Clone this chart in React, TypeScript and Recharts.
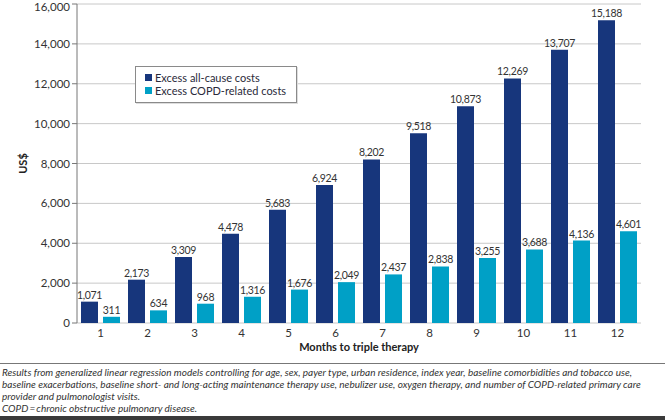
import React from 'react';
import { BarChart, Bar, XAxis, YAxis, CartesianGrid, LabelList } from 'recharts';

const months = ['1', '2', '3', '4', '5', '6', '7', '8', '9', '10', '11', '12'];
const allCause = [1071, 2173, 3309, 4478, 5683, 6924, 8202, 9518, 10873, 12269, 13707, 15188];
const copdRelated = [311, 634, 968, 1316, 1676, 2049, 2437, 2838, 3255, 3688, 4136, 4601];
const yTicks = [0, 2000, 4000, 6000, 8000, 10000, 12000, 14000, 16000];
const edgeTicks = [0, 1, 2, 3, 4, 5, 6, 7, 8, 9, 10, 11, 12];
const seriesNames = ['Excess all-cause costs', 'Excess COPD-related costs'];
const footLines = [
  'Results from generalized linear regression models controlling for age, sex, payer type, urban residence, index year, baseline comorbidities and tobacco use,',
  'baseline exacerbations, baseline short- and long-acting maintenance therapy use, nebulizer use, oxygen therapy, and number of COPD-related primary care',
  'provider and pulmonologist visits.',
  'COPD\u2009=\u2009chronic obstructive pulmonary disease.',
];

const NAVY = '#17367c';
const CYAN = '#00a0c6';
const FONT = 'Lato, "Noto Sans", sans-serif';

const data = months.map((m, i) => ({ month: m, all: allCause[i], copd: copdRelated[i] }));

const fmt = (v: any) => Number(v).toLocaleString('en-US');

export default function App() {
  return (
    <div style={{ position: 'absolute', left: 0, top: 0, width: 665, height: 420, background: '#fff', overflow: 'hidden' }}>
      <BarChart
        width={665}
        height={360}
        data={data}
        margin={{ top: 4, right: 24, bottom: 0, left: 0 }}
        barGap={5}
      >
        <CartesianGrid vertical={false} stroke="#c8c8c8" />
        <XAxis
          xAxisId="edge"
          type="number"
          domain={[0, 12]}
          ticks={edgeTicks}
          tick={false}
          tickSize={5}
          height={0}
          axisLine={{ stroke: '#777' }}
          tickLine={{ stroke: '#777' }}
          allowDataOverflow
        />
        <XAxis
          xAxisId="cat"
          dataKey="month"
          axisLine={false}
          tickLine={false}
          height={37}
          tickMargin={0}
          tick={{ fontFamily: FONT, fontSize: 11.5, fill: '#333' }}
          label={{
            value: 'Months to triple therapy',
            position: 'insideBottom',
            offset: 9,
            style: { fontFamily: FONT, fontSize: 11, fontWeight: 700, fill: '#222' },
          }}
        />
        <YAxis
          domain={[0, 16000]}
          ticks={yTicks}
          width={77}
          tickFormatter={fmt}
          axisLine={{ stroke: '#777' }}
          tickLine={{ stroke: '#777' }}
          tickSize={5}
          tickMargin={2}
          tick={{ fontFamily: FONT, fontSize: 11.5, fill: '#333' }}
          label={{
            value: 'US$',
            angle: -90,
            position: 'insideLeft',
            offset: 23,
            style: { fontFamily: FONT, fontSize: 11, fontWeight: 700, fill: '#222', textAnchor: 'middle' },
          }}
        />
        <Bar xAxisId="cat" dataKey="all" name={seriesNames[0]} fill={NAVY} barSize={17} isAnimationActive={false}>
          <LabelList dataKey="all" position="top" offset={3} formatter={fmt} style={{ fontFamily: FONT, fontSize: 10.5, fill: '#333', letterSpacing: -0.3 }} />
        </Bar>
        <Bar xAxisId="cat" dataKey="copd" name={seriesNames[1]} fill={CYAN} barSize={17} isAnimationActive={false}>
          <LabelList dataKey="copd" position="top" offset={3} formatter={fmt} style={{ fontFamily: FONT, fontSize: 10.5, fill: '#333', letterSpacing: -0.3 }} />
        </Bar>
      </BarChart>
      <div
        style={{
          position: 'absolute',
          left: 135,
          top: 66,
          width: 162,
          height: 37,
          boxSizing: 'border-box',
          border: '1px solid #8a8a8a',
          background: '#fff',
          padding: '4px 0 0 9px',
          fontFamily: FONT,
          fontSize: 11,
          color: '#2a2a3a',
          lineHeight: '13px',
          whiteSpace: 'nowrap',
          boxShadow: '1px 1px 0 #ddd',
        }}
      >
        {seriesNames.map((n, i) => (
          <div key={n} style={{ display: 'flex', alignItems: 'center', height: 13 }}>
            <span style={{ width: 7, height: 7, background: i === 0 ? NAVY : CYAN, marginRight: 3, display: 'inline-block' }} />
            {n}
          </div>
        ))}
      </div>
      <div style={{ position: 'absolute', left: 0, top: 363, width: 665, borderTop: '1px solid #777' }} />
      <div
        style={{
          position: 'absolute',
          left: 2,
          top: 366,
          width: 663,
          fontFamily: FONT,
          fontStyle: 'italic',
          fontSize: 10,
          lineHeight: '12px',
          color: '#333',
          whiteSpace: 'nowrap',
        }}
      >
        {footLines.map((l) => (
          <div key={l}>{l}</div>
        ))}
      </div>
      <div style={{ position: 'absolute', left: 0, top: 416, width: 665, height: 4, background: '#3a3a3a' }} />
    </div>
  );
}
